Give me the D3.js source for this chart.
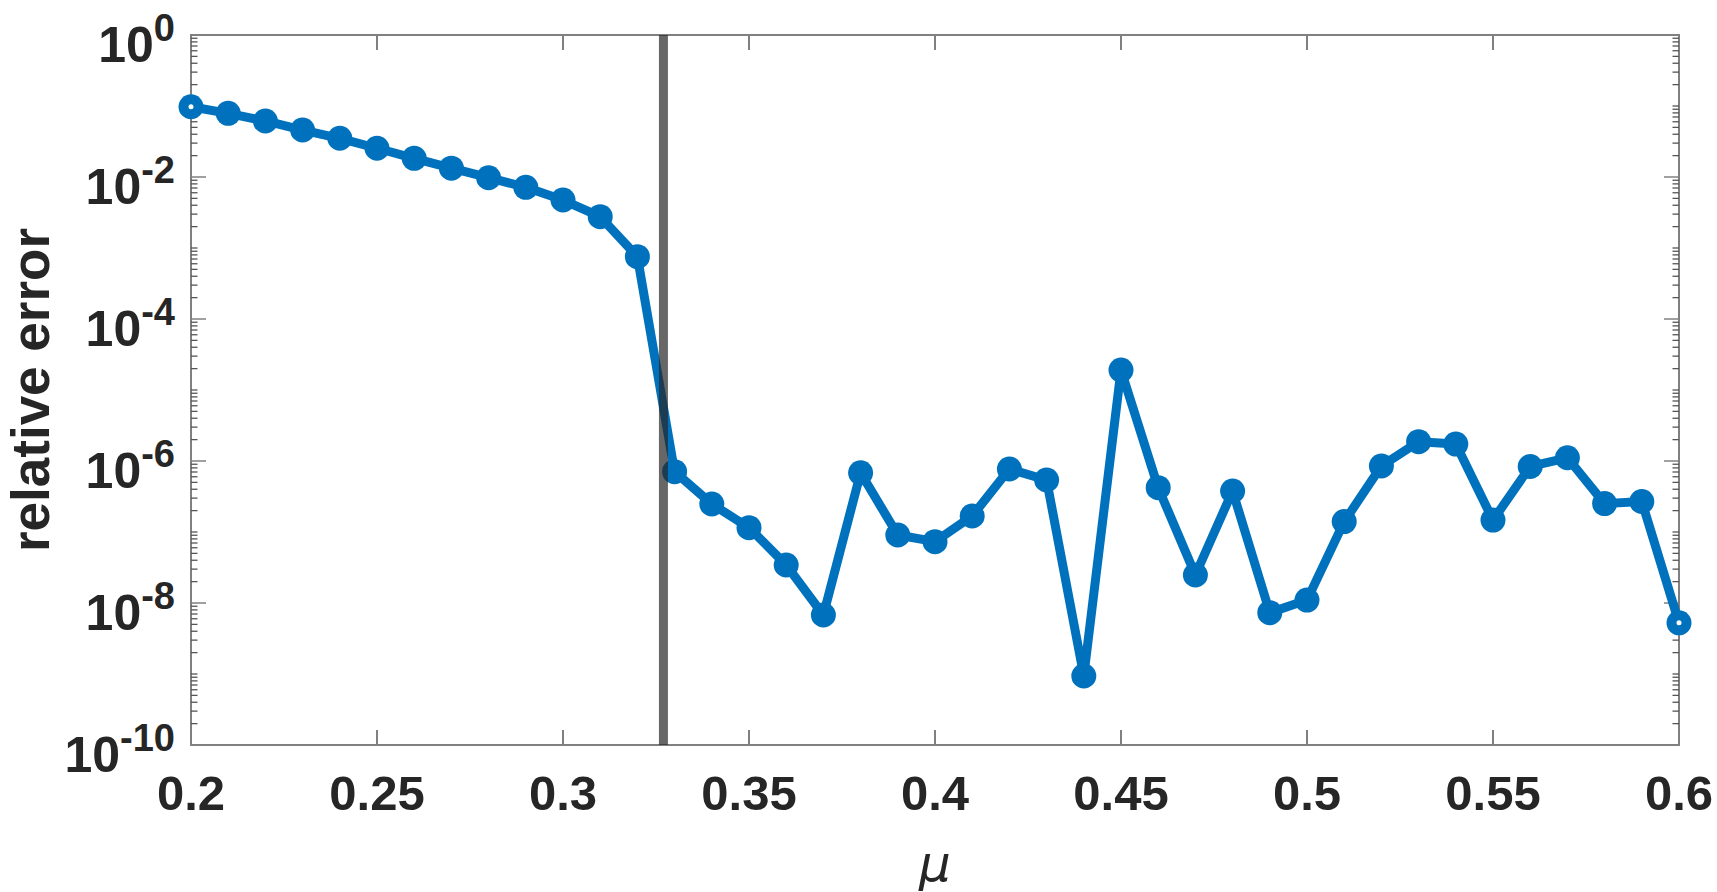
<!DOCTYPE html>
<html>
<head>
<meta charset="utf-8">
<script src="https://cdn.jsdelivr.net/npm/d3@7"></script>
<style>
html,body{margin:0;padding:0;background:#fff;}
svg{display:block;}
text{font-family:"Liberation Sans",Arial,Helvetica,sans-serif;}
</style>
</head>
<body>
<svg id="chart" width="1717" height="892"></svg>
<script>
// ---- data ----
const mu = [0.20,0.21,0.22,0.23,0.24,0.25,0.26,0.27,0.28,0.29,0.30,0.31,0.32,0.33,0.34,0.35,0.36,0.37,0.38,0.39,0.40,
            0.41,0.42,0.43,0.44,0.45,0.46,0.47,0.48,0.49,0.50,0.51,0.52,0.53,0.54,0.55,0.56,0.57,0.58,0.59,0.60];
const relErr = [9.77e-2,7.89e-2,6.15e-2,4.59e-2,3.51e-2,2.54e-2,1.83e-2,1.33e-2,9.77e-3,7.16e-3,4.74e-3,2.76e-3,7.55e-4,
                7.08e-7,2.48e-7,1.15e-7,3.43e-8,6.78e-9,6.82e-7,9.08e-8,7.31e-8,
                1.68e-7,7.71e-7,5.40e-7,9.37e-10,1.91e-5,4.21e-7,2.48e-8,3.78e-7,7.31e-9,1.10e-8,
                1.40e-7,8.51e-7,1.87e-6,1.73e-6,1.47e-7,8.37e-7,1.11e-6,2.51e-7,2.69e-7,5.25e-9];
const xTicks = [0.2,0.25,0.3,0.35,0.4,0.45,0.5,0.55,0.6];
const xTickLabels = ["0.2","0.25","0.3","0.35","0.4","0.45","0.5","0.55","0.6"];
const yTicks = [1e0,1e-2,1e-4,1e-6,1e-8,1e-10];
const yTickExponents = ["0","-2","-4","-6","-8","-10"];
const thresholdMu = 0.327;
const xLabel = "μ";
const yLabel = "relative error";

// ---- layout ----
const L = 191, R = 1679, T = 35, B = 745;
const svg = d3.select("#chart");
const x = d3.scaleLinear().domain([0.2, 0.6]).range([L, R]);
const y = d3.scaleLog().domain([1e-10, 1]).range([B, T]);
const axisColor = "#808080";
const textColor = "#262626";
const blue = "#0072BD";

// minor ticks on log axis
const minor = [];
for (let k = -10; k < 0; k++) {
  for (let m = 2; m <= 9; m++) minor.push(m * Math.pow(10, k));
  if (k % 2 !== 0) minor.push(Math.pow(10, k));
}

// frame
svg.append("rect").attr("x", L).attr("y", T).attr("width", R - L).attr("height", B - T)
  .attr("fill", "none").attr("stroke", axisColor).attr("stroke-width", 2);

// x ticks (bottom & top)
const gx = svg.append("g");
xTicks.forEach(v => {
  gx.append("line").attr("x1", x(v)).attr("x2", x(v)).attr("y1", B).attr("y2", B - 15)
    .attr("stroke", axisColor).attr("stroke-width", 2);
  gx.append("line").attr("x1", x(v)).attr("x2", x(v)).attr("y1", T).attr("y2", T + 15)
    .attr("stroke", axisColor).attr("stroke-width", 2);
});
// y ticks (left & right)
const gy = svg.append("g");
yTicks.forEach(v => {
  gy.append("line").attr("x1", L).attr("x2", L + 15).attr("y1", y(v)).attr("y2", y(v))
    .attr("stroke", axisColor).attr("stroke-width", 1.5);
  gy.append("line").attr("x1", R).attr("x2", R - 15).attr("y1", y(v)).attr("y2", y(v))
    .attr("stroke", axisColor).attr("stroke-width", 1.5);
});
minor.forEach(v => {
  gy.append("line").attr("x1", L).attr("x2", L + 6.5).attr("y1", y(v)).attr("y2", y(v))
    .attr("stroke", "#555").attr("stroke-width", 1.3);
  gy.append("line").attr("x1", R).attr("x2", R - 6.5).attr("y1", y(v)).attr("y2", y(v))
    .attr("stroke", "#555").attr("stroke-width", 1.3);
});

// x tick labels
xTicks.forEach((v, i) => {
  svg.append("text").attr("x", x(v)).attr("y", 810).attr("text-anchor", "middle")
    .attr("font-size", 49).attr("font-weight", "bold").attr("fill", textColor)
    .text(xTickLabels[i]);
});
// y tick labels 10^k
yTicks.forEach((v, i) => {
  const t = svg.append("text").attr("x", 175).attr("y", y(v) + 27).attr("text-anchor", "end")
    .attr("font-weight", "bold").attr("fill", textColor);
  t.append("tspan").attr("font-size", 50).text("10");
  t.append("tspan").attr("font-size", 38).attr("dy", -21).text(yTickExponents[i]);
});

// axis titles
svg.append("text").attr("transform", `translate(49,${(T + B) / 2}) rotate(-90)`)
  .attr("text-anchor", "middle").attr("font-size", 53).attr("font-weight", "bold")
  .attr("fill", textColor).text(yLabel);
svg.append("text").attr("x", (L + R) / 2).attr("y", 881).attr("text-anchor", "middle")
  .attr("font-size", 50).attr("font-style", "italic").attr("fill", textColor)
  .style("font-family", "'DejaVu Sans', sans-serif").text(xLabel);

// data line
const pts = mu.map((m, i) => [m, relErr[i]]);
svg.append("path").datum(pts)
  .attr("d", d3.line().x(d => x(d[0])).y(d => y(d[1])))
  .attr("fill", "none").attr("stroke", blue).attr("stroke-width", 9).attr("stroke-linejoin", "round");
svg.append("g").selectAll("circle").data(pts).join("circle")
  .attr("cx", d => x(d[0])).attr("cy", d => y(d[1])).attr("r", 12.5).attr("fill", blue);
// endpoint highlights
svg.append("g").selectAll("circle").data([pts[0], pts[pts.length - 1]]).join("circle")
  .attr("cx", d => x(d[0])).attr("cy", d => y(d[1])).attr("r", 2.5).attr("fill", "#fff");

// threshold line
svg.append("line").attr("x1", x(thresholdMu)).attr("x2", x(thresholdMu)).attr("y1", T).attr("y2", B)
  .attr("stroke", "#262626").attr("stroke-opacity", 0.7).attr("stroke-width", 9);
</script>
</body>
</html>
